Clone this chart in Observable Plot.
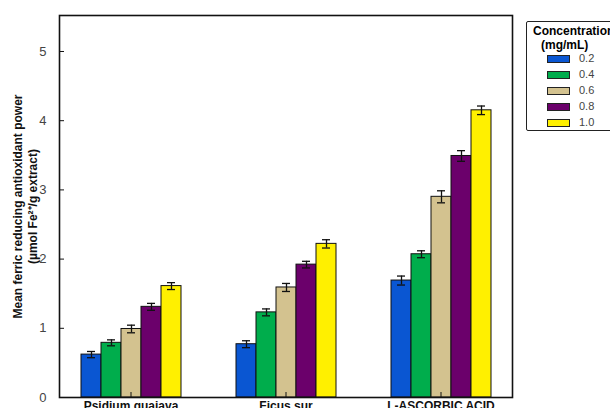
<!DOCTYPE html>
<html>
<head>
<meta charset="utf-8">
<script src="https://cdn.jsdelivr.net/npm/d3@7"></script>
<script src="https://cdn.jsdelivr.net/npm/@observablehq/plot@0.6"></script>
<style>
  html, body { margin: 0; padding: 0; background: white; }
  #wrap { position: relative; width: 610px; height: 408px; overflow: hidden; font-family: "Liberation Sans", Arial, sans-serif; }
  #legend { position: absolute; left: 526px; top: 21px; width: 100px; height: 108px; border: 1.5px solid #222; border-radius: 2px; background: white; }
  #legend .t { position: absolute; font-weight: bold; font-size: 12px; line-height: 13px; color: #000; white-space: nowrap; }
  #legend .row { position: absolute; left: 20px; height: 12px; }
  #legend .sw { position: absolute; left: 0; top: 2px; width: 21px; height: 6px; border: 1px solid #222; }
  #legend .lb { position: absolute; left: 32px; top: -1px; font-size: 11px; color: #444; white-space: nowrap; }
</style>
</head>
<body>
<div id="wrap"><div id="chart"></div><div id="legend"></div></div>
<script>
const groups = ["Psidium guajava", "Ficus sur", "L-ASCORBIC ACID"];
const concs = ["0.2", "0.4", "0.6", "0.8", "1.0"];
const colors = ["#0a56d2", "#00ad4c", "#d3c28f", "#6b006b", "#fff000"];
const psidiumValues = [0.62, 0.79, 0.99, 1.31, 1.61];
const ficusValues = [0.77, 1.23, 1.59, 1.92, 2.22];
const ascorbicValues = [1.69, 2.07, 2.90, 3.49, 4.15];
const psidiumErrors = [0.045, 0.043, 0.055, 0.05, 0.05];
const ficusErrors = [0.05, 0.05, 0.058, 0.048, 0.06];
const ascorbicErrors = [0.065, 0.05, 0.087, 0.077, 0.062];
const yTicks = [0, 1, 2, 3, 4, 5];
const yTitle = "Mean ferric reducing antioxidant power\n(µmol Fe²⁺/g extract)";
const legendTitle1 = "Concentration";
const legendTitle2 = "(mg/mL)";

const valueSets = [psidiumValues, ficusValues, ascorbicValues];
const errorSets = [psidiumErrors, ficusErrors, ascorbicErrors];
const data = [];
groups.forEach((g, gi) => concs.forEach((c, ci) => {
  data.push({group: g, conc: c, value: valueSets[gi][ci], err: errorSets[gi][ci]});
}));

const chart = Plot.plot({
  width: 610,
  height: 408,
  marginLeft: 58,
  marginRight: 97,
  marginTop: 15,
  marginBottom: 11,
  style: {fontFamily: "'Liberation Sans', Arial, sans-serif", background: "white", overflow: "visible"},
  fx: {domain: groups, paddingInner: 0.078, paddingOuter: 0, label: null, axis: null},
  x: {domain: concs, paddingInner: 0, paddingOuter: 1.03, axis: null},
  y: {domain: [0, 5.52], axis: null},
  color: {domain: concs, range: colors},
  marks: [
    Plot.barY(data, {fx: "group", x: "conc", y: "value", fill: "conc", stroke: "#111", strokeWidth: 1}),
    Plot.ruleX(data, {fx: "group", x: "conc", y1: d => d.value - d.err, y2: d => d.value + d.err, stroke: "#111", strokeWidth: 1.3}),
    Plot.tickY(data, {fx: "group", x: "conc", y: d => d.value - d.err, inset: 6, stroke: "#111", strokeWidth: 1.3}),
    Plot.tickY(data, {fx: "group", x: "conc", y: d => d.value + d.err, inset: 6, stroke: "#111", strokeWidth: 1.3}),
    Plot.axisY({ticks: yTicks, tickFormat: d3.format("d"), tickSize: -5, tickPadding: 18, fontSize: 13, fill: "#444", stroke: "#111", label: null}),
    Plot.axisFx({anchor: "bottom", tickSize: -5, tickPadding: 8.5, fontSize: 12, fontWeight: "bold", fill: "#111", stroke: "#111", label: null}),
    Plot.text([yTitle], {facet: "super", frameAnchor: "left", textAnchor: "middle", lineAnchor: "middle", rotate: -90, dx: -35, fontWeight: "bold", fontSize: 12, lineHeight: 1.3, fill: "#111"}),
    Plot.frame({facet: "super", stroke: "#111", strokeWidth: 1.6})
  ]
});
document.getElementById("chart").appendChild(chart);

// legend
const legend = d3.select("#legend");
legend.append("div").attr("class", "t").style("left", "6px").style("top", "3px").text(legendTitle1);
legend.append("div").attr("class", "t").style("left", "14px").style("top", "17px").text(legendTitle2);
concs.forEach((c, i) => {
  const row = legend.append("div").attr("class", "row").style("top", (31 + i * 16) + "px");
  row.append("div").attr("class", "sw").style("background", colors[i]);
  row.append("div").attr("class", "lb").text(c);
});
</script>
</body>
</html>
